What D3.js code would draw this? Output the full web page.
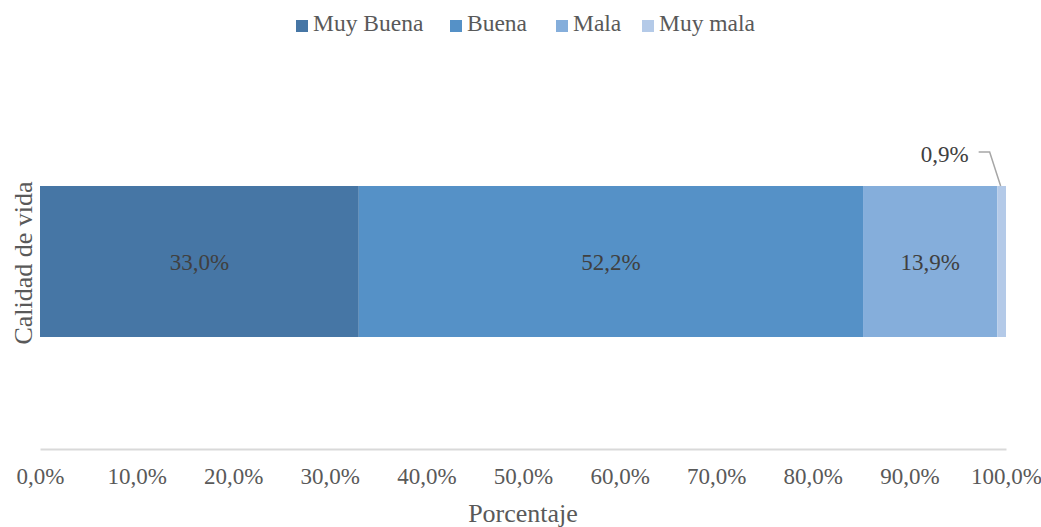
<!DOCTYPE html>
<html>
<head>
<meta charset="utf-8">
<script src="https://cdn.jsdelivr.net/npm/d3@7"></script>
<style>
  body { margin: 0; background: #fff; }
</style>
</head>
<body>
<div class="canvas"></div>
<script>
const categories = ["Muy Buena", "Buena", "Mala", "Muy mala"];
const values = [33.0, 52.2, 13.9, 0.9];
const labels = ["33,0%", "52,2%", "13,9%", "0,9%"];
const colors = ["#4676a5", "#5591c7", "#85aedb", "#b4cae8"];
const ticks = [0, 10, 20, 30, 40, 50, 60, 70, 80, 90, 100];

const FONT = "Liberation Serif, serif";
const width = 1041;
const height = 527;

const svg = d3
  .select(".canvas")
  .append("svg")
  .attr("width", width)
  .attr("height", height)
  .attr("font-family", FONT);

const x = d3.scaleLinear().domain([0, 100]).range([40, 1006]);
const y = d3.scaleBand().domain(["Calidad de vida"]).range([186, 337]);

// stacked segments
let acc = 0;
const segs = values.map((v, i) => {
  const s = { start: acc, end: acc + v, color: colors[i], label: labels[i] };
  acc += v;
  return s;
});

svg
  .selectAll("rect.seg")
  .data(segs)
  .enter()
  .append("rect")
  .attr("class", "seg")
  .attr("x", (d) => x(d.start))
  .attr("width", (d) => x(d.end) - x(d.start))
  .attr("y", y("Calidad de vida"))
  .attr("height", y.bandwidth())
  .attr("fill", (d) => d.color);

// inside labels (first three)
svg
  .selectAll("text.inlabel")
  .data(segs.slice(0, 3))
  .enter()
  .append("text")
  .attr("class", "inlabel")
  .attr("x", (d) => (x(d.start) + x(d.end)) / 2)
  .attr("y", y("Calidad de vida") + y.bandwidth() / 2 + 8)
  .attr("text-anchor", "middle")
  .attr("font-family", FONT)
  .attr("font-size", 23)
  .attr("fill", "#404040")
  .text((d) => d.label);

// callout for last segment
const last = segs[3];
const lx = (x(last.start) + x(last.end)) / 2;
svg
  .append("path")
  .attr("d", `M${lx - 1},${y("Calidad de vida")} L${lx - 12},152 L${lx - 23},152`)
  .attr("fill", "none")
  .attr("stroke", "#a6a6a6")
  .attr("stroke-width", 1.5);
svg
  .append("text")
  .attr("x", lx - 33)
  .attr("y", 162)
  .attr("text-anchor", "end")
  .attr("font-family", FONT)
  .attr("font-size", 23)
  .attr("fill", "#404040")
  .text(last.label);

// x axis
const xAxis = d3
  .axisBottom(x)
  .tickValues(ticks)
  .tickSize(0)
  .tickPadding(19)
  .tickFormat((d) => d.toFixed(1).replace(".", ",") + "%");

const xAxisGroup = svg
  .append("g")
  .attr("transform", `translate(0,449)`)
  .call(xAxis)
  .attr("font-family", FONT)
  .attr("font-size", 23);
xAxisGroup.select(".domain").attr("stroke", "#d9d9d9").attr("stroke-width", 2);
xAxisGroup.selectAll("text").attr("fill", "#595959");

// axis titles
svg
  .append("text")
  .attr("x", (x(0) + x(100)) / 2)
  .attr("y", 522)
  .attr("text-anchor", "middle")
  .attr("font-family", FONT)
  .attr("font-size", 26)
  .attr("fill", "#595959")
  .text("Porcentaje");

svg
  .append("text")
  .attr("transform", `translate(32,263) rotate(-90)`)
  .attr("text-anchor", "middle")
  .attr("font-family", FONT)
  .attr("font-size", 26)
  .attr("fill", "#595959")
  .text("Calidad de vida");

// legend
const legendX = [296, 450, 556, 642];
const legend = svg
  .selectAll("g.legend")
  .data(categories)
  .enter()
  .append("g")
  .attr("class", "legend")
  .attr("transform", (d, i) => `translate(${legendX[i]},0)`);
legend
  .append("rect")
  .attr("y", 20)
  .attr("width", 12)
  .attr("height", 12)
  .attr("fill", (d, i) => colors[i]);
legend
  .append("text")
  .attr("x", 17)
  .attr("y", 31)
  .attr("font-family", FONT)
  .attr("font-size", 23.5)
  .attr("fill", "#595959")
  .text((d) => d);
</script>
</body>
</html>
